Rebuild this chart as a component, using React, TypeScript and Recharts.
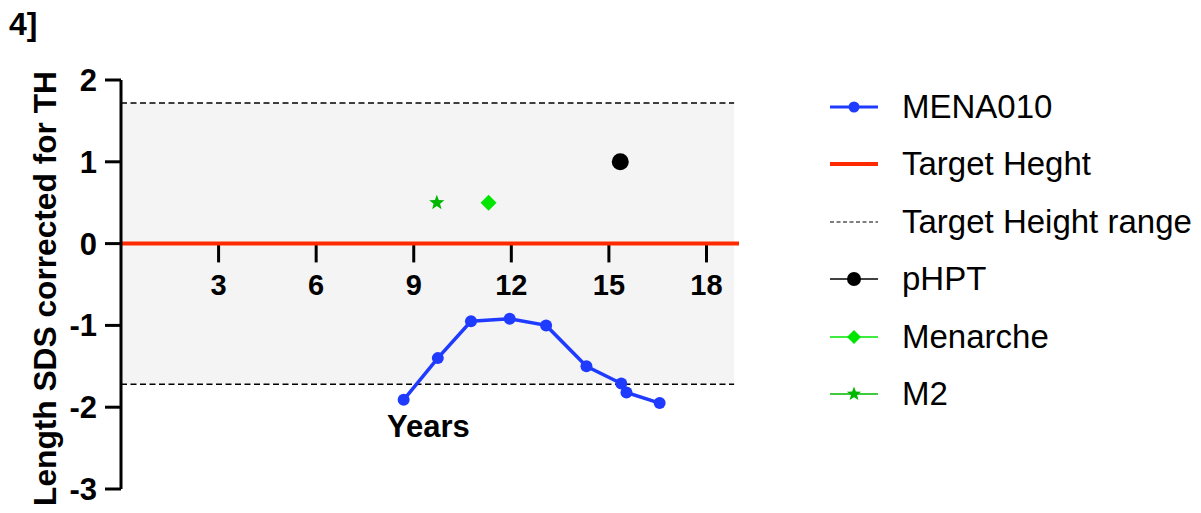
import React from 'react';
import {
  ComposedChart,
  Line,
  Scatter,
  XAxis,
  YAxis,
  ReferenceArea,
  ReferenceLine,
} from 'recharts';

// Growth course of patient MENA010 (length SDS corrected for target height)
const AGES = [8.69, 9.74, 10.76, 11.95, 13.07, 14.31, 15.38, 15.54, 16.56];
const SDS = [-1.91, -1.4, -0.95, -0.92, -1.0, -1.5, -1.71, -1.82, -1.95];

// Single events
const PHPT_AGE = [15.35];
const PHPT_SDS = [1.0];
const MENARCHE_AGE = [11.3];
const MENARCHE_SDS = [0.5];
const M2_AGE = [9.71];
const M2_SDS = [0.5];

// Target height and its range
const TARGET_SDS = 0;
const RANGE_LOW = -1.72;
const RANGE_HIGH = 1.72;
const RANGE_END_AGE = 18.85;

const X_TICKS = [3, 6, 9, 12, 15, 18];
const Y_TICKS = [-3, -2, -1, 0, 1, 2];
const X_DOMAIN = [0, 19];
const Y_DOMAIN = [-3, 2];

const LEGEND_LABELS = [
  'MENA010',
  'Target Heght',
  'Target Height range',
  'pHPT',
  'Menarche',
  'M2',
];

const FONT = '"Liberation Sans", Arial, Helvetica, sans-serif';
const BLUE = '#1f3bff';
const RED = '#ff2a00';
const BAND = '#f4f4f4';
const GREEN_BRIGHT = '#00e600';
const GREEN_DARK = '#00b800';

const zip = (xs: number[], ys: number[]) => xs.map((x, i) => ({ x, y: ys[i] }));

const menaData = zip(AGES, SDS);
const phptData = zip(PHPT_AGE, PHPT_SDS);
const menarcheData = zip(MENARCHE_AGE, MENARCHE_SDS);
const m2Data = zip(M2_AGE, M2_SDS);

const starPoints = (cx: number, cy: number, outer: number, inner: number) => {
  const pts: string[] = [];
  for (let i = 0; i < 10; i++) {
    const r = i % 2 === 0 ? outer : inner;
    const a = -Math.PI / 2 + (i * Math.PI) / 5;
    pts.push(`${cx + r * Math.cos(a)},${cy + r * Math.sin(a)}`);
  }
  return pts.join(' ');
};

const CircleShape = (props: any) => (
  <circle cx={props.cx} cy={props.cy} r={8.5} fill="#000" />
);

const DiamondShape = (props: any) => {
  const { cx, cy } = props;
  const s = 8;
  return (
    <polygon
      points={`${cx},${cy - s} ${cx + s},${cy} ${cx},${cy + s} ${cx - s},${cy}`}
      fill={GREEN_BRIGHT}
    />
  );
};

const StarShape = (props: any) => (
  <polygon points={starPoints(props.cx, props.cy, 8, 3.4)} fill={GREEN_DARK} />
);

const YTitle = (props: any) => {
  const vb = props.viewBox || { x: 0, y: 80, width: 121, height: 409 };
  const x = 56;
  const y = vb.y + vb.height / 2 + 4;
  return (
    <text
      x={x}
      y={y}
      transform={`rotate(-90 ${x} ${y})`}
      textAnchor="middle"
      fontFamily={FONT}
      fontWeight={700}
      fontSize={31.7}
      fill="#000"
    >
      Length SDS corrected for TH
    </text>
  );
};

const LegendIcon = ({ index }: { index: number }) => {
  const w = 48;
  const h = 20;
  const c = h / 2;
  const m = w / 2;
  switch (index) {
    case 0:
      return (
        <svg width={w} height={h}>
          <line x1={0} y1={c} x2={w} y2={c} stroke={BLUE} strokeWidth={3} />
          <circle cx={m} cy={c} r={5.5} fill={BLUE} />
        </svg>
      );
    case 1:
      return (
        <svg width={w} height={h}>
          <line x1={0} y1={c} x2={w} y2={c} stroke={RED} strokeWidth={4} />
        </svg>
      );
    case 2:
      return (
        <svg width={w} height={h}>
          <line x1={0} y1={c} x2={w} y2={c} stroke="#000" strokeWidth={1.2} strokeDasharray="4 2.5" />
        </svg>
      );
    case 3:
      return (
        <svg width={w} height={h}>
          <line x1={0} y1={c} x2={w} y2={c} stroke="#000" strokeWidth={1.5} />
          <circle cx={m} cy={c} r={7} fill="#000" />
        </svg>
      );
    case 4:
      return (
        <svg width={w} height={h}>
          <line x1={0} y1={c} x2={w} y2={c} stroke={GREEN_BRIGHT} strokeWidth={1.5} />
          <polygon points={`${m},${c - 7} ${m + 7},${c} ${m},${c + 7} ${m - 7},${c}`} fill={GREEN_BRIGHT} />
        </svg>
      );
    default:
      return (
        <svg width={w} height={h}>
          <line x1={0} y1={c} x2={w} y2={c} stroke={GREEN_DARK} strokeWidth={1.5} />
          <polygon points={starPoints(m, c, 7.5, 3.2)} fill={GREEN_DARK} />
        </svg>
      );
  }
};

export default function App() {
  return (
    <div
      style={{
        position: 'absolute',
        left: 0,
        top: 0,
        width: 1201,
        height: 513,
        background: '#fff',
        fontFamily: FONT,
      }}
    >
      <div
        style={{
          position: 'absolute',
          left: 9,
          top: 9,
          fontSize: 32,
          fontWeight: 700,
          lineHeight: '30px',
          color: '#000',
        }}
      >
        4]
      </div>

      <ComposedChart
        width={1201}
        height={513}
        margin={{ top: 80, right: 462, bottom: 24, left: 0 }}
        style={{ position: 'absolute', left: 0, top: 0 }}
      >
        <XAxis
          type="number"
          dataKey="x"
          domain={X_DOMAIN}
          allowDataOverflow
          hide
        />
        <YAxis
          type="number"
          dataKey="y"
          domain={Y_DOMAIN}
          ticks={Y_TICKS}
          allowDataOverflow
          width={121}
          tickSize={16}
          tickMargin={8}
          axisLine={{ stroke: '#000', strokeWidth: 3 }}
          tickLine={{ stroke: '#000', strokeWidth: 3 }}
          tick={{ fill: '#000', fontSize: 31, fontWeight: 700, fontFamily: FONT }}
          label={<YTitle />}
        />

        <ReferenceArea
          x1={0}
          x2={RANGE_END_AGE}
          y1={RANGE_LOW}
          y2={RANGE_HIGH}
          fill={BAND}
          fillOpacity={1}
          stroke="none"
        />
        <ReferenceLine
          segment={[
            { x: 0, y: RANGE_HIGH },
            { x: RANGE_END_AGE, y: RANGE_HIGH },
          ]}
          stroke="#000"
          strokeWidth={1.5}
          strokeDasharray="6 3.5"
        />
        <ReferenceLine
          segment={[
            { x: 0, y: RANGE_LOW },
            { x: RANGE_END_AGE, y: RANGE_LOW },
          ]}
          stroke="#000"
          strokeWidth={1.5}
          strokeDasharray="6 3.5"
        />

        {X_TICKS.map((t) => (
          <ReferenceLine
            key={t}
            segment={[
              { x: t, y: TARGET_SDS },
              { x: t, y: TARGET_SDS - 0.23 },
            ]}
            stroke="#000"
            strokeWidth={3}
            label={{
              value: String(t),
              position: 'bottom',
              offset: 12,
              fill: '#000',
              fontSize: 29,
              fontWeight: 700,
              fontFamily: FONT,
            }}
          />
        ))}

        <ReferenceLine y={TARGET_SDS} stroke={RED} strokeWidth={4} />

        <Line
          data={menaData}
          dataKey="y"
          stroke={BLUE}
          strokeWidth={3.5}
          dot={{ r: 6, fill: BLUE, stroke: BLUE, strokeWidth: 0 }}
          isAnimationActive={false}
        />
        <Scatter data={phptData} dataKey="y" shape={<CircleShape />} isAnimationActive={false} />
        <Scatter data={menarcheData} dataKey="y" shape={<DiamondShape />} isAnimationActive={false} />
        <Scatter data={m2Data} dataKey="y" shape={<StarShape />} isAnimationActive={false} />
      </ComposedChart>

      <div
        style={{
          position: 'absolute',
          left: 387,
          top: 410,
          fontSize: 31,
          fontWeight: 700,
          lineHeight: '34px',
          color: '#000',
        }}
      >
        Years
      </div>

      <div style={{ position: 'absolute', left: 830, top: 78 }}>
        {LEGEND_LABELS.map((label, i) => (
          <div
            key={label}
            style={{ display: 'flex', alignItems: 'center', height: 57.5 }}
          >
            <LegendIcon index={i} />
            <span
              style={{
                marginLeft: 24,
                fontSize: 33,
                color: '#000',
                whiteSpace: 'nowrap',
              }}
            >
              {label}
            </span>
          </div>
        ))}
      </div>
    </div>
  );
}
